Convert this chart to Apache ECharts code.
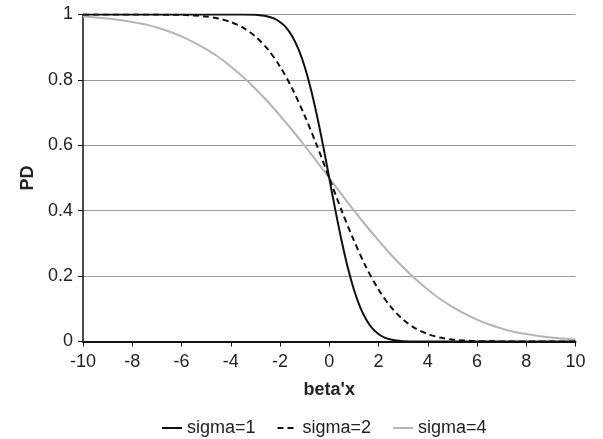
<!doctype html>
<html lang="en">
<head>
    <meta charset="UTF-8">
    <title>PD vs beta'x</title>
    <style>
        body{ margin:0; background:#fff; }
    </style>
</head>
<body>
<div id="main" style="width: 603px;height:439px;"></div>
<script src="https://cdn.jsdelivr.net/npm/echarts@6/dist/echarts.min.js"></script>
<script>
    // x positions (beta'x) shared by sigma=2 and sigma=4
    var xs = [-10, -9.5, -9, -8.5, -8, -7.5, -7, -6.5, -6, -5.5, -5, -4.5, -4, -3.5, -3, -2.5, -2, -1.5, -1, -0.5,
        0, 0.5, 1, 1.5, 2, 2.5, 3, 3.5, 4, 4.5, 5, 5.5, 6, 6.5, 7, 7.5, 8, 8.5, 9, 9.5, 10];
    // sigma=1 is steep, read it on a finer grid
    var xs1 = [-10, -4, -3.5, -3, -2.75, -2.5, -2.25, -2, -1.75, -1.5, -1.25, -1, -0.75, -0.5, -0.25,
        0, 0.25, 0.5, 0.75, 1, 1.25, 1.5, 1.75, 2, 2.25, 2.5, 2.75, 3, 3.5, 4, 10];
    var pd1 = [1, 1, 1, 0.999, 0.997, 0.994, 0.988, 0.977, 0.960, 0.933, 0.894, 0.841, 0.773, 0.691, 0.599,
        0.5, 0.401, 0.309, 0.227, 0.159, 0.106, 0.067, 0.040, 0.023, 0.012, 0.006, 0.003, 0.001, 0, 0, 0];
    var pd2 = [1, 1, 1, 1, 1, 1, 1, 0.999, 0.999, 0.997, 0.994, 0.988, 0.977, 0.960, 0.933, 0.894, 0.841, 0.773, 0.691, 0.599,
        0.5, 0.401, 0.309, 0.227, 0.159, 0.106, 0.067, 0.040, 0.023, 0.012, 0.006, 0.003, 0.001, 0.001, 0, 0, 0, 0, 0, 0, 0];
    var pd4 = [0.994, 0.991, 0.988, 0.983, 0.977, 0.970, 0.960, 0.948, 0.933, 0.915, 0.894, 0.870, 0.841, 0.809, 0.773, 0.734, 0.691, 0.646, 0.599, 0.550,
        0.5, 0.450, 0.401, 0.354, 0.309, 0.266, 0.227, 0.191, 0.159, 0.130, 0.106, 0.085, 0.067, 0.052, 0.040, 0.030, 0.023, 0.017, 0.012, 0.009, 0.006];
    var names = ['sigma=1', 'sigma=2', 'sigma=4'];

    function pairs(x, y) {
        var out = [];
        for (var i = 0; i < x.length; i++) out.push([x[i], y[i]]);
        return out;
    }

    var font = 'Liberation Sans, Arial, sans-serif';
    var myChart = echarts.init(document.getElementById('main'));
    var option = {
        animation: false,
        grid: { left: 83, right: 27.5, top: 14.5, bottom: 97.5 },
        legend: {
            data: names,
            left: 156, top: 414,
            itemWidth: 20, itemHeight: 12, itemGap: 21,
            itemStyle: { opacity: 0 },
            textStyle: { fontFamily: font, fontSize: 18, color: '#222' }
        },
        xAxis: {
            type: 'value', min: -10, max: 10, interval: 2,
            name: "beta'x", nameLocation: 'middle', nameGap: 40,
            nameTextStyle: { fontFamily: font, fontSize: 18, fontWeight: 'bold', color: '#222' },
            axisLine: { onZero: false, lineStyle: { color: '#111', width: 2 } },
            axisTick: { length: 5, lineStyle: { color: '#111' } },
            axisLabel: { fontFamily: font, fontSize: 18, color: '#222', margin: 12 },
            splitLine: { show: false }
        },
        yAxis: {
            type: 'value', min: 0, max: 1, interval: 0.2,
            name: 'PD', nameLocation: 'middle', nameGap: 46,
            nameTextStyle: { fontFamily: font, fontSize: 18, fontWeight: 'bold', color: '#222' },
            axisLine: { show: true, onZero: false, lineStyle: { color: '#111', width: 1.5 } },
            axisTick: { show: true, length: 5, lineStyle: { color: '#111' } },
            axisLabel: { fontFamily: font, fontSize: 18, color: '#222', margin: 10 },
            splitLine: { lineStyle: { color: '#999', width: 1 } }
        },
        series: [
            {
                name: 'sigma=4', type: 'line', symbol: 'none', smooth: 0.3, z: 2,
                lineStyle: { color: '#b5b5b5', width: 2 }, itemStyle: { color: '#b5b5b5' },
                data: pairs(xs, pd4)
            },
            {
                name: 'sigma=2', type: 'line', symbol: 'none', smooth: 0.3, z: 3,
                lineStyle: { color: '#111', width: 2, type: [6, 4] }, itemStyle: { color: '#111' },
                data: pairs(xs, pd2)
            },
            {
                name: 'sigma=1', type: 'line', symbol: 'none', smooth: 0.3, z: 4,
                lineStyle: { color: '#111', width: 2 }, itemStyle: { color: '#111' },
                data: pairs(xs1, pd1)
            }
        ]
    };
    myChart.setOption(option);
</script>
</body>
</html>
